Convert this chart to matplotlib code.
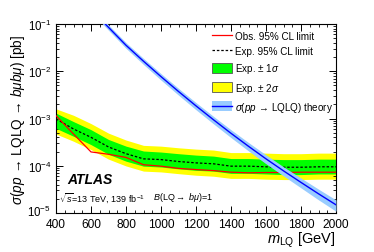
import numpy as np
import matplotlib
matplotlib.use("Agg")
import matplotlib.pyplot as plt
import matplotlib.transforms as mtransforms
from matplotlib.lines import Line2D
from matplotlib.patches import Patch
from matplotlib.ticker import LogLocator, MultipleLocator, NullFormatter

plt.rcParams['font.family'] = ['Liberation Sans', 'DejaVu Sans']
plt.rcParams['mathtext.fontset'] = 'custom'
plt.rcParams['mathtext.rm'] = 'Liberation Sans'
plt.rcParams['mathtext.it'] = 'Liberation Sans:italic'
plt.rcParams['mathtext.bf'] = 'Liberation Sans:bold'

mass = [400, 500, 600, 700, 800, 900, 1000, 1100, 1200, 1300, 1400, 1500, 1600, 1700, 1800, 1900, 2000]
obs = [1.15e-3, 4.7e-4, 1.96e-4, 1.75e-4, 1.5e-4, 1.05e-4, 9.8e-5, 8.8e-5, 8.3e-5, 7.9e-5, 7.3e-5, 7.1e-5, 7.2e-5, 7.2e-5, 7.3e-5, 7.3e-5, 7.3e-5]
exp = [9.8e-4, 6.0e-4, 4.0e-4, 2.5e-4, 1.8e-4, 1.4e-4, 1.35e-4, 1.23e-4, 1.15e-4, 1.1e-4, 9.8e-5, 9.8e-5, 9.5e-5, 9.3e-5, 9.3e-5, 9.5e-5, 9.5e-5]
exp_p1 = [1.3e-3, 8.6e-4, 5.8e-4, 3.6e-4, 2.6e-4, 2.05e-4, 1.95e-4, 1.8e-4, 1.68e-4, 1.6e-4, 1.42e-4, 1.42e-4, 1.38e-4, 1.35e-4, 1.35e-4, 1.38e-4, 1.38e-4]
exp_m1 = [6.2e-4, 4.2e-4, 2.8e-4, 1.75e-4, 1.25e-4, 9.8e-5, 9.4e-5, 8.6e-5, 8.0e-5, 7.7e-5, 6.9e-5, 6.9e-5, 6.7e-5, 6.5e-5, 6.5e-5, 6.7e-5, 6.7e-5]
exp_p2 = [1.6e-3, 1.17e-3, 7.8e-4, 4.9e-4, 3.5e-4, 2.7e-4, 2.6e-4, 2.4e-4, 2.25e-4, 2.15e-4, 1.9e-4, 1.9e-4, 1.85e-4, 1.8e-4, 1.8e-4, 1.85e-4, 1.85e-4]
exp_m2 = [4.7e-4, 3.3e-4, 2.2e-4, 1.38e-4, 9.9e-5, 7.7e-5, 7.4e-5, 6.8e-5, 6.3e-5, 6.0e-5, 5.4e-5, 5.4e-5, 5.2e-5, 5.1e-5, 5.1e-5, 5.2e-5, 5.2e-5]

th_mass = [600, 700, 800, 900, 1000, 1100, 1200, 1300, 1400, 1500, 1600, 1700, 1800, 1900, 2000]
th_xsec = [0.204, 0.085, 0.0355, 0.0163, 0.0077, 0.00373, 0.00185, 0.00094, 0.000486, 0.000258, 0.00014, 7.8e-5, 4.44e-5, 2.55e-5, 1.49e-5]
th_up = [0.228, 0.096, 0.0404, 0.0187, 0.00890, 0.00434, 0.00217, 0.00111, 0.000578, 0.00031, 0.00017, 9.5e-5, 5.5e-5, 3.2e-5, 1.89e-5]
th_dn = [0.180, 0.074, 0.0306, 0.0139, 0.00650, 0.00312, 0.00153, 0.00077, 0.000394, 0.000206, 0.00011, 6.1e-5, 3.4e-5, 1.9e-5, 1.09e-5]

fig = plt.figure(figsize=(3.74, 2.53), dpi=100)
ax = fig.add_axes([56/374, 39/253, 280/374, 189/253])

ax.fill_between(mass, exp_m2, exp_p2, color='#ffff00', lw=0, zorder=1)
ax.fill_between(mass, exp_m1, exp_p1, color='#00ff00', lw=0, zorder=2)
ax.plot(mass, exp, color='black', ls=(0, (2.0, 1.5)), lw=0.9, zorder=3)
ax.plot(mass, obs, color='#ff0000', lw=0.9, zorder=4)
ax.fill_between(th_mass, th_dn, th_up, color='#99ccff', lw=0, zorder=5)
ax.plot(th_mass, th_xsec, color='#0000ff', lw=1.0, zorder=6)

ax.set_yscale('log')
ax.set_xlim(400, 2000)
ax.set_ylim(1e-5, 1e-1)
ax.xaxis.set_major_locator(MultipleLocator(200))
ax.xaxis.set_minor_locator(MultipleLocator(50))
ax.yaxis.set_major_locator(LogLocator(base=10, numticks=10))
ax.yaxis.set_minor_locator(LogLocator(base=10, subs=np.arange(2, 10), numticks=20))
ax.yaxis.set_minor_formatter(NullFormatter())
ax.tick_params(which='both', direction='in', top=True, right=True)
ax.tick_params(axis='x', pad=3.5, labelsize=8.6)
ax.tick_params(axis='y', pad=3, labelsize=8.3)
ax.tick_params(which='major', length=5, width=0.7)
ax.tick_params(which='minor', length=2.5, width=0.6)
for s in ax.spines.values():
    s.set_linewidth(0.8)

ax.set_ylabel(r'$\sigma(pp\,\rightarrow\,\mathrm{LQLQ}\,\rightarrow\,b\mu b\mu)$ [pb]', fontsize=9.8, labelpad=0)
ax.set_xlabel(r'$m_{\mathrm{LQ}}$ [GeV]', fontsize=10.5, loc='right', labelpad=0)

ax.text(0.04, 0.18, 'ATLAS', transform=ax.transAxes, fontsize=10, fontweight='bold', fontstyle='italic', va='center')
ax.text(0.01, 0.085, r'$\sqrt{s}$=13 TeV, 139 fb$^{-1}$', transform=ax.transAxes, fontsize=6.5, va='center')
ax.text(0.347, 0.085, r'$B$(LQ$\rightarrow$ $b\mu$)=1', transform=ax.transAxes, fontsize=6.5, va='center')

handles = [
    Line2D([], [], color='#ff0000', lw=0.9),
    Line2D([], [], color='black', ls=(0, (2.0, 1.5)), lw=0.9),
    Patch(facecolor='#00ff00', edgecolor='#555555', lw=0.6),
    Patch(facecolor='#ffff00', edgecolor='#555555', lw=0.6),
    (Patch(facecolor='#99ccff', lw=0), Line2D([], [], color='#0000ff', lw=1.0)),
]
labels = ['Obs. 95% CL limit', 'Exp. 95% CL limit', r'Exp. $\pm$ 1$\sigma$', r'Exp. $\pm$ 2$\sigma$',
          r'$\sigma$($pp$$\,\rightarrow\,$LQLQ) theory']
ax.legend(handles, labels, loc='upper left', bbox_to_anchor=(154/280, 0.975), frameon=False,
          fontsize=7.1, labelspacing=0.52, handlelength=2.0, handleheight=1.15, handletextpad=0.3,
          borderaxespad=0, borderpad=0.2)

# nudge the bottom y tick label up a little so it does not collide with the "400" label
fig.canvas.draw()
offset = mtransforms.ScaledTranslation(-1/100, 3.5/100, fig.dpi_scale_trans)
for tick in ax.yaxis.get_major_ticks():
    if abs(np.log10(tick.get_loc()) + 5) < 1e-6:
        tick.label1.set_transform(tick.label1.get_transform() + offset)

fig.savefig('out.png', dpi=100)
